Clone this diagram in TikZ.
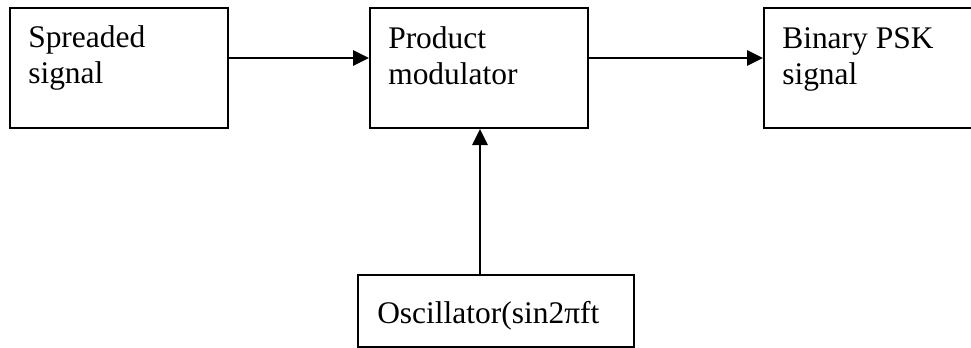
\documentclass[tikz,border=0pt]{standalone}
\usepackage{fontspec}
\setmainfont{Liberation Serif}
\usetikzlibrary{arrows.meta}
\begin{document}
\begin{tikzpicture}[x=0.75pt,y=-0.75pt,
  blockbox/.style={draw=black,line width=1.6pt,minimum width=#1*0.75pt,inner sep=0pt,anchor=north west},
  blockbox/.default=218,
  lbl/.style={inner sep=0pt,anchor=base west,align=left,
    font=\fontsize{23.6pt}{27pt}\selectfont},
  flow/.style={line width=1.6pt,-{Triangle[length=12pt,width=11.5pt]}}]
\clip (0,0) rectangle (971,347);
\fill[white] (0,0) rectangle (971,347);
% blocks
\node[blockbox=218,minimum height=120*0.75pt] (spread) at (9,7) {};
\node[blockbox=218,minimum height=120*0.75pt] (prod) at (369,7) {};
\node[blockbox=220,minimum height=120*0.75pt] (psk) at (763,7) {};
\node[blockbox=276,minimum height=72*0.75pt] (osc) at (357,274) {};
% block texts (anchored on the baseline of the last line)
\node[lbl] (tspread) at (28,83) {Spreaded\\signal};
\node[lbl] (tprod) at (388,84) {Product\\modulator};
\node[lbl] (tpsk) at (782,84) {Binary PSK\\signal};
\node[lbl] (tosc) at (377,323) {Oscillator(sin2\symbol{"03C0}ft};
% signal path
\coordinate (row) at (0,58);
\coordinate (col) at (480,0);
\draw[flow] (spread.east |- row) -- (prod.west |- row);
\draw[flow] (prod.east |- row) -- (psk.west |- row);
\draw[flow] (osc.north -| col) -- (prod.south -| col);
\end{tikzpicture}
\end{document}
